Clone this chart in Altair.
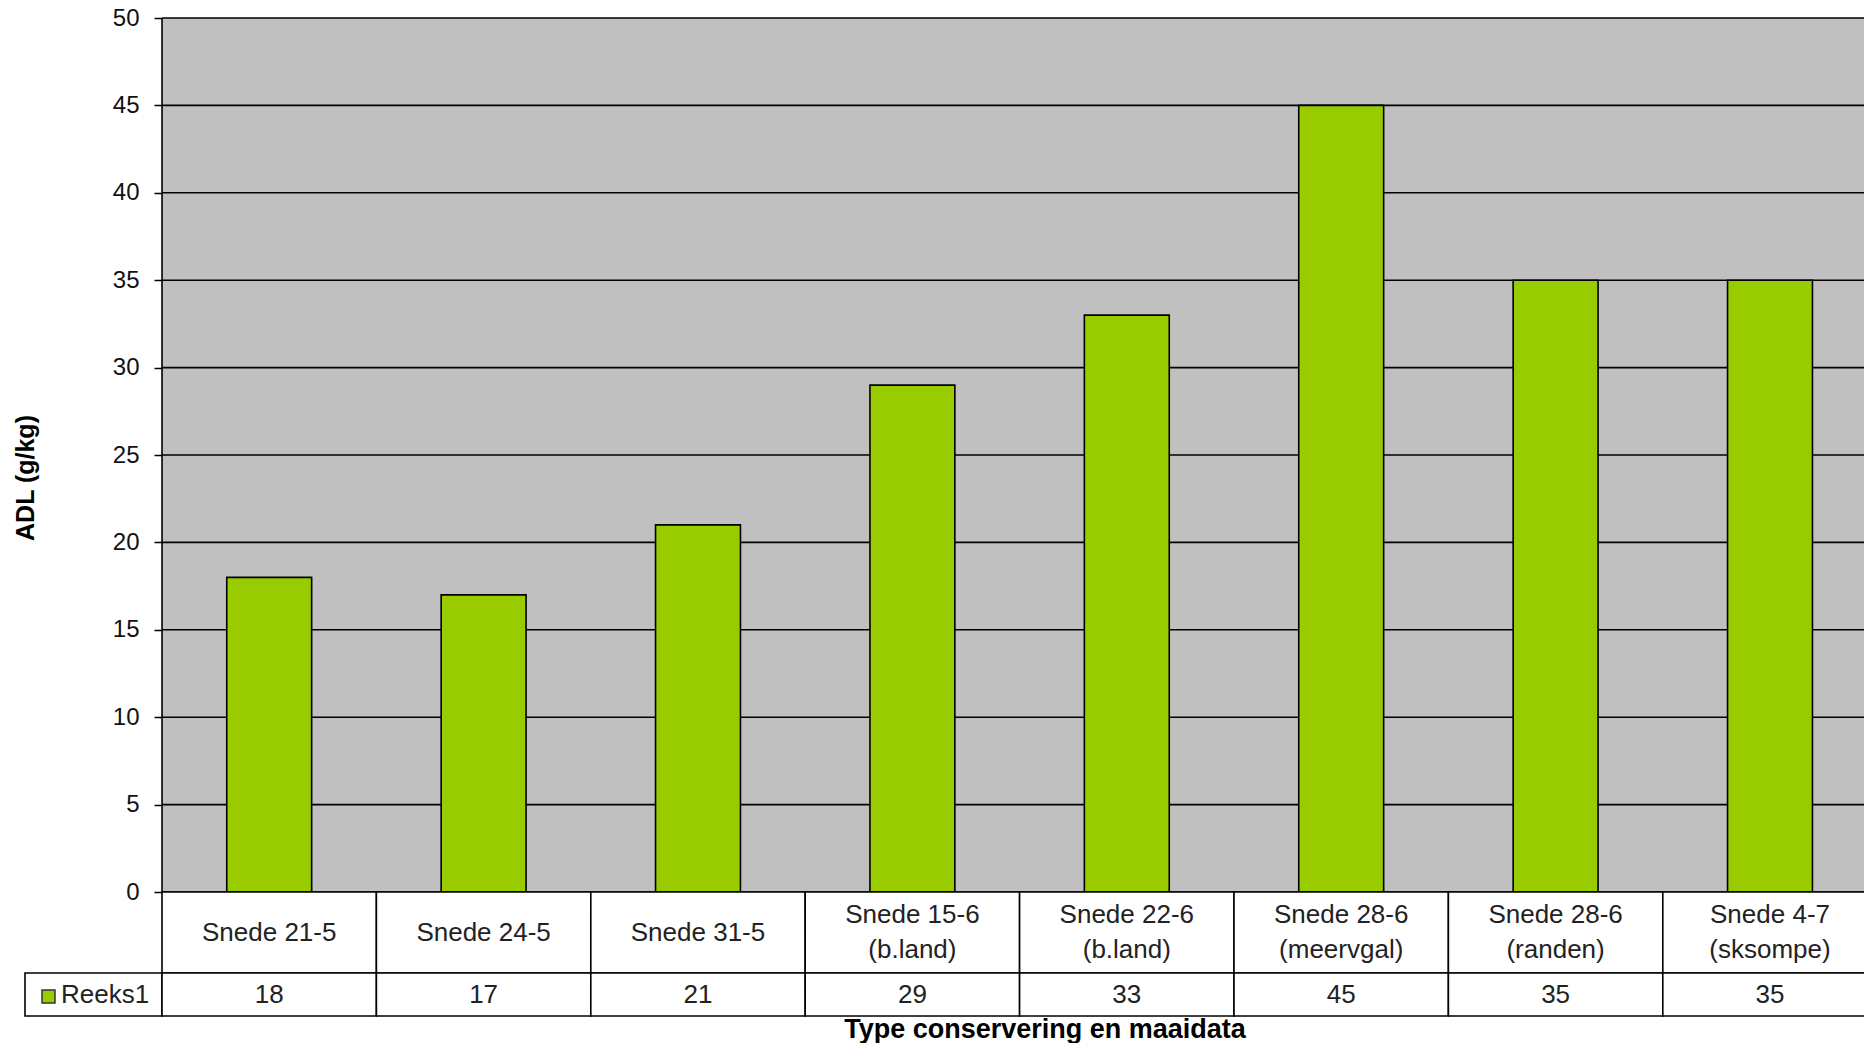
import altair as alt
import pandas as pd

# ---------------- data ----------------
categories = ["Snede 21-5", "Snede 24-5", "Snede 31-5", "Snede 15-6",
              "Snede 22-6", "Snede 28-6", "Snede 28-6", "Snede 4-7"]
subtitles = ["", "", "", "(b.land)", "(b.land)", "(meervgal)", "(randen)", "(sksompe)"]
values = [18, 17, 21, 29, 33, 45, 35, 35]
series_name = "Reeks1"
y_ticks = [0, 5, 10, 15, 20, 25, 30, 35, 40, 45, 50]
y_title = "ADL (g/kg)"
x_title = "Type conservering en maaidata"

# ---------------- layout (pixels) ----------------
FONT = "Liberation Sans"
PLOT_W = 1702          # plot width (last category runs off the edge)
CAT_PX = 214.4         # width of one category
ZERO_PX = 874          # distance from top of plot (50) to zero line
PLOT_H = 998           # down to bottom of the data table
ROW1_PX = 81           # height of the category-label row
LEGEND_PX = 137        # width of legend cell left of plot
BAR_FRAC = 0.396
YMAX = 50
LINE_H = 35


def xd(px):
    return px / CAT_PX


def yd(py):
    return YMAX * (ZERO_PX - py) / ZERO_PX


XMAX = xd(PLOT_W)
YMIN = yd(PLOT_H)
ROW1 = yd(ZERO_PX + ROW1_PX)

xscale = alt.Scale(domain=[0, XMAX], nice=False, zero=False)
yscale = alt.Scale(domain=[YMIN, YMAX], nice=False, zero=False)
yaxis = alt.Axis(values=y_ticks, tickSize=8, tickColor="black", tickWidth=1.5,
                 domain=False, grid=False, labelFontSize=24, labelFont=FONT,
                 labelColor="#111111", labelPadding=15, title=None)


def X(f):
    return alt.X(f, type="quantitative", scale=xscale, axis=None)


def Y(f):
    return alt.Y(f, type="quantitative", scale=yscale, axis=yaxis)


n = len(categories)
bars = pd.DataFrame({
    "x": [i + 0.5 - BAR_FRAC / 2 for i in range(n)],
    "x2": [i + 0.5 + BAR_FRAC / 2 for i in range(n)],
    "y": [0] * n,
    "y2": values,
})
cells1 = pd.DataFrame({"x": list(range(n)), "x2": [i + 1 for i in range(n)],
                       "y": [ROW1] * n, "y2": [0] * n})
cells2 = pd.DataFrame({"x": [-xd(LEGEND_PX)] + list(range(n)),
                       "x2": [0] + [i + 1 for i in range(n)],
                       "y": [YMIN] * (n + 1), "y2": [ROW1] * (n + 1)})
row1_mid = ZERO_PX + ROW1_PX / 2
labels = pd.DataFrame({
    "x": [i + 0.5 for i in range(n)],
    "y": [yd(row1_mid - (LINE_H / 2 if s else 0)) for s in subtitles],
    "t": [c if s == "" else c + "\n" + s for c, s in zip(categories, subtitles)],
})
vals = pd.DataFrame({"x": [i + 0.5 for i in range(n)],
                     "y": [(ROW1 + YMIN) / 2] * n,
                     "t": [str(v) for v in values]})
grid = pd.DataFrame({"y": y_ticks, "x": [0] * len(y_ticks), "x2": [8] * len(y_ticks)})
bg = pd.DataFrame({"x": [0], "x2": [8], "y": [0], "y2": [YMAX]})
border = pd.DataFrame({"x": [0], "y": [0], "y2": [YMAX]})
legend_sw = pd.DataFrame({"x": [xd(42 - 162)], "x2": [xd(55 - 162)],
                          "y": [yd(990 - 18)], "y2": [yd(1003 - 18)]})
legend_tx = pd.DataFrame({"x": [xd(61 - 162)], "y": [yd(995 - 18)], "t": [series_name]})
ytitle_df = pd.DataFrame({"x": [xd(26 - 162)], "y": [yd(478 - 18)], "t": [y_title]})
xtitle_df = pd.DataFrame({"x": [xd(1045 - 162)], "y": [yd(1038 - 18)], "t": [x_title]})

layers = [
    alt.Chart(bg).mark_rect(color="#C0C0C0").encode(x=X("x"), x2="x2", y=Y("y"), y2="y2"),
    alt.Chart(grid).mark_rule(color="black", strokeWidth=1.6).encode(x=X("x"), x2="x2", y=Y("y")),
    alt.Chart(border).mark_rule(color="black", strokeWidth=1.6).encode(x=X("x"), y=Y("y"), y2="y2"),
    alt.Chart(bars).mark_rect(color="#99CC00", stroke="black", strokeWidth=1.6).encode(
        x=X("x"), x2="x2", y=Y("y"), y2="y2"),
    alt.Chart(cells1).mark_rect(fill="white", stroke="black", strokeWidth=1.6).encode(
        x=X("x"), x2="x2", y=Y("y"), y2="y2"),
    alt.Chart(cells2).mark_rect(fill="white", stroke="black", strokeWidth=1.6).encode(
        x=X("x"), x2="x2", y=Y("y"), y2="y2"),
    alt.Chart(labels).mark_text(font=FONT, fontSize=26, color="#222222", lineBreak="\n",
                                lineHeight=LINE_H, baseline="middle", align="center").encode(
        x=X("x"), y=Y("y"), text="t"),
    alt.Chart(vals).mark_text(font=FONT, fontSize=26, color="#222222",
                              baseline="middle", align="center").encode(
        x=X("x"), y=Y("y"), text="t"),
    alt.Chart(legend_sw).mark_rect(color="#99CC00", stroke="#333333", strokeWidth=1.5).encode(
        x=X("x"), x2="x2", y=Y("y"), y2="y2"),
    alt.Chart(legend_tx).mark_text(font=FONT, fontSize=26, color="#222222",
                                   baseline="middle", align="left").encode(
        x=X("x"), y=Y("y"), text="t"),
    alt.Chart(ytitle_df).mark_text(font=FONT, fontSize=25, fontWeight="bold", color="black",
                                   angle=270, baseline="middle", align="center").encode(
        x=X("x"), y=Y("y"), text="t"),
    alt.Chart(xtitle_df).mark_text(font=FONT, fontSize=27, fontWeight="bold", color="black",
                                   baseline="alphabetic", align="center").encode(
        x=X("x"), y=Y("y"), text="t"),
]

chart = alt.layer(*layers).properties(
    width=PLOT_W, height=PLOT_H,
    autosize=alt.AutoSizeParams(type="none"),
    padding={"left": 154, "top": 10, "right": 0, "bottom": 30},
    background="white",
).configure_view(stroke=None)

chart.save("out.html", embed_options={"renderer": "svg", "actions": False})
